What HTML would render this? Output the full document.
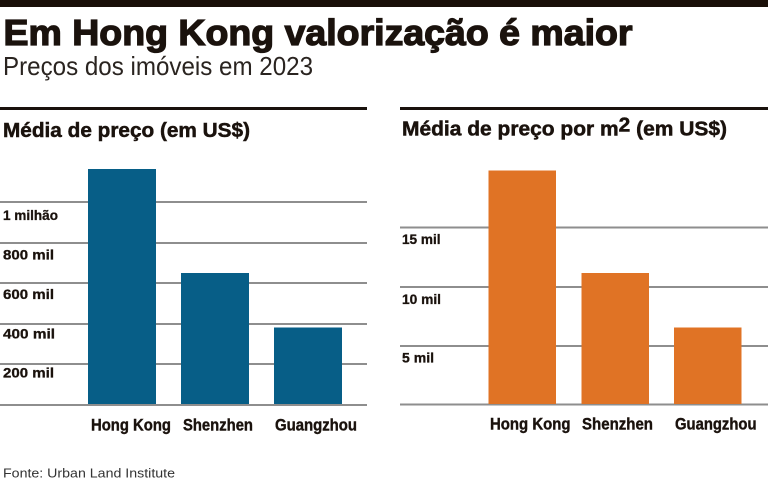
<!DOCTYPE html>
<html><head><meta charset="utf-8"><style>
html,body{margin:0;padding:0;background:#fff;}
svg{display:block;}
text{font-family:"Liberation Sans",sans-serif;}
</style></head><body>
<svg width="768" height="478" viewBox="0 0 768 478" xmlns="http://www.w3.org/2000/svg">
<rect x="0" y="0" width="768" height="7" fill="#1a0f08"/>
<text x="3.5" y="45" font-size="36" font-weight="bold" fill="#1a120d" stroke="#1a120d" stroke-width="1.3" textLength="629" lengthAdjust="spacingAndGlyphs">Em Hong Kong valorização é maior</text>
<text x="3" y="75" font-size="26" fill="#2a2420" textLength="310" lengthAdjust="spacingAndGlyphs">Preços dos imóveis em 2023</text>

<!-- Left panel -->
<rect x="0" y="107" width="367" height="3" fill="#1a120d"/>
<text x="3" y="137" font-size="20.5" font-weight="bold" fill="#1a120d" stroke="#1a120d" stroke-width="0.5" textLength="247" lengthAdjust="spacingAndGlyphs">Média de preço (em US$)</text>
<g fill="#8e8e8e">
<rect x="0" y="201" width="367" height="2"/>
<rect x="0" y="242" width="367" height="2"/>
<rect x="0" y="282" width="367" height="2"/>
<rect x="0" y="323" width="367" height="2"/>
<rect x="0" y="363" width="367" height="2"/>
<rect x="0" y="404" width="367" height="2"/>
</g>
<g fill="#075e87">
<rect x="88" y="169" width="68" height="235"/>
<rect x="181" y="273" width="68" height="131"/>
<rect x="274" y="327.5" width="68" height="76.5"/>
</g>
<g font-size="14" font-weight="bold" fill="#1a120d" stroke="#1a120d" stroke-width="0.3">
<text x="3" y="220" textLength="55" lengthAdjust="spacingAndGlyphs">1 milhão</text>
<text x="3" y="259.5" textLength="51" lengthAdjust="spacingAndGlyphs">800 mil</text>
<text x="3" y="299" textLength="51" lengthAdjust="spacingAndGlyphs">600 mil</text>
<text x="3" y="338.5" textLength="52" lengthAdjust="spacingAndGlyphs">400 mil</text>
<text x="3" y="377.5" textLength="51" lengthAdjust="spacingAndGlyphs">200 mil</text>
</g>
<g font-size="16.5" font-weight="bold" fill="#1a120d" stroke="#1a120d" stroke-width="0.4">
<text x="91" y="430.5" textLength="80" lengthAdjust="spacingAndGlyphs">Hong Kong</text>
<text x="183" y="430.5" textLength="70" lengthAdjust="spacingAndGlyphs">Shenzhen</text>
<text x="275" y="430.5" textLength="82" lengthAdjust="spacingAndGlyphs">Guangzhou</text>
</g>

<!-- Right panel -->
<rect x="400" y="107" width="368" height="3" fill="#1a120d"/>
<text x="402" y="135.5" font-size="20.5" font-weight="bold" fill="#1a120d" stroke="#1a120d" stroke-width="0.5" textLength="325" lengthAdjust="spacingAndGlyphs">Média de preço por m<tspan dy="-4">2</tspan><tspan dy="4"> (em US$)</tspan></text>
<g fill="#8e8e8e">
<rect x="400" y="226.5" width="368" height="2"/>
<rect x="400" y="286" width="368" height="2"/>
<rect x="400" y="345" width="368" height="2"/>
<rect x="400" y="403.5" width="368" height="2"/>
</g>
<g fill="#e07325">
<rect x="488.5" y="170.5" width="67.5" height="233.5"/>
<rect x="581.5" y="273" width="67.5" height="131"/>
<rect x="674" y="327.5" width="67.5" height="76.5"/>
</g>
<g font-size="14" font-weight="bold" fill="#1a120d" stroke="#1a120d" stroke-width="0.3">
<text x="402" y="244" textLength="38.5" lengthAdjust="spacingAndGlyphs">15 mil</text>
<text x="402" y="304" textLength="39" lengthAdjust="spacingAndGlyphs">10 mil</text>
<text x="402" y="362.5" textLength="32" lengthAdjust="spacingAndGlyphs">5 mil</text>
</g>
<g font-size="16.5" font-weight="bold" fill="#1a120d" stroke="#1a120d" stroke-width="0.4">
<text x="490" y="429.5" textLength="80.5" lengthAdjust="spacingAndGlyphs">Hong Kong</text>
<text x="582" y="429.5" textLength="71" lengthAdjust="spacingAndGlyphs">Shenzhen</text>
<text x="675" y="429.5" textLength="81.5" lengthAdjust="spacingAndGlyphs">Guangzhou</text>
</g>

<text x="3" y="477.5" font-size="13" fill="#333" textLength="172" lengthAdjust="spacingAndGlyphs">Fonte: Urban Land Institute</text>
</svg>
</body></html>
